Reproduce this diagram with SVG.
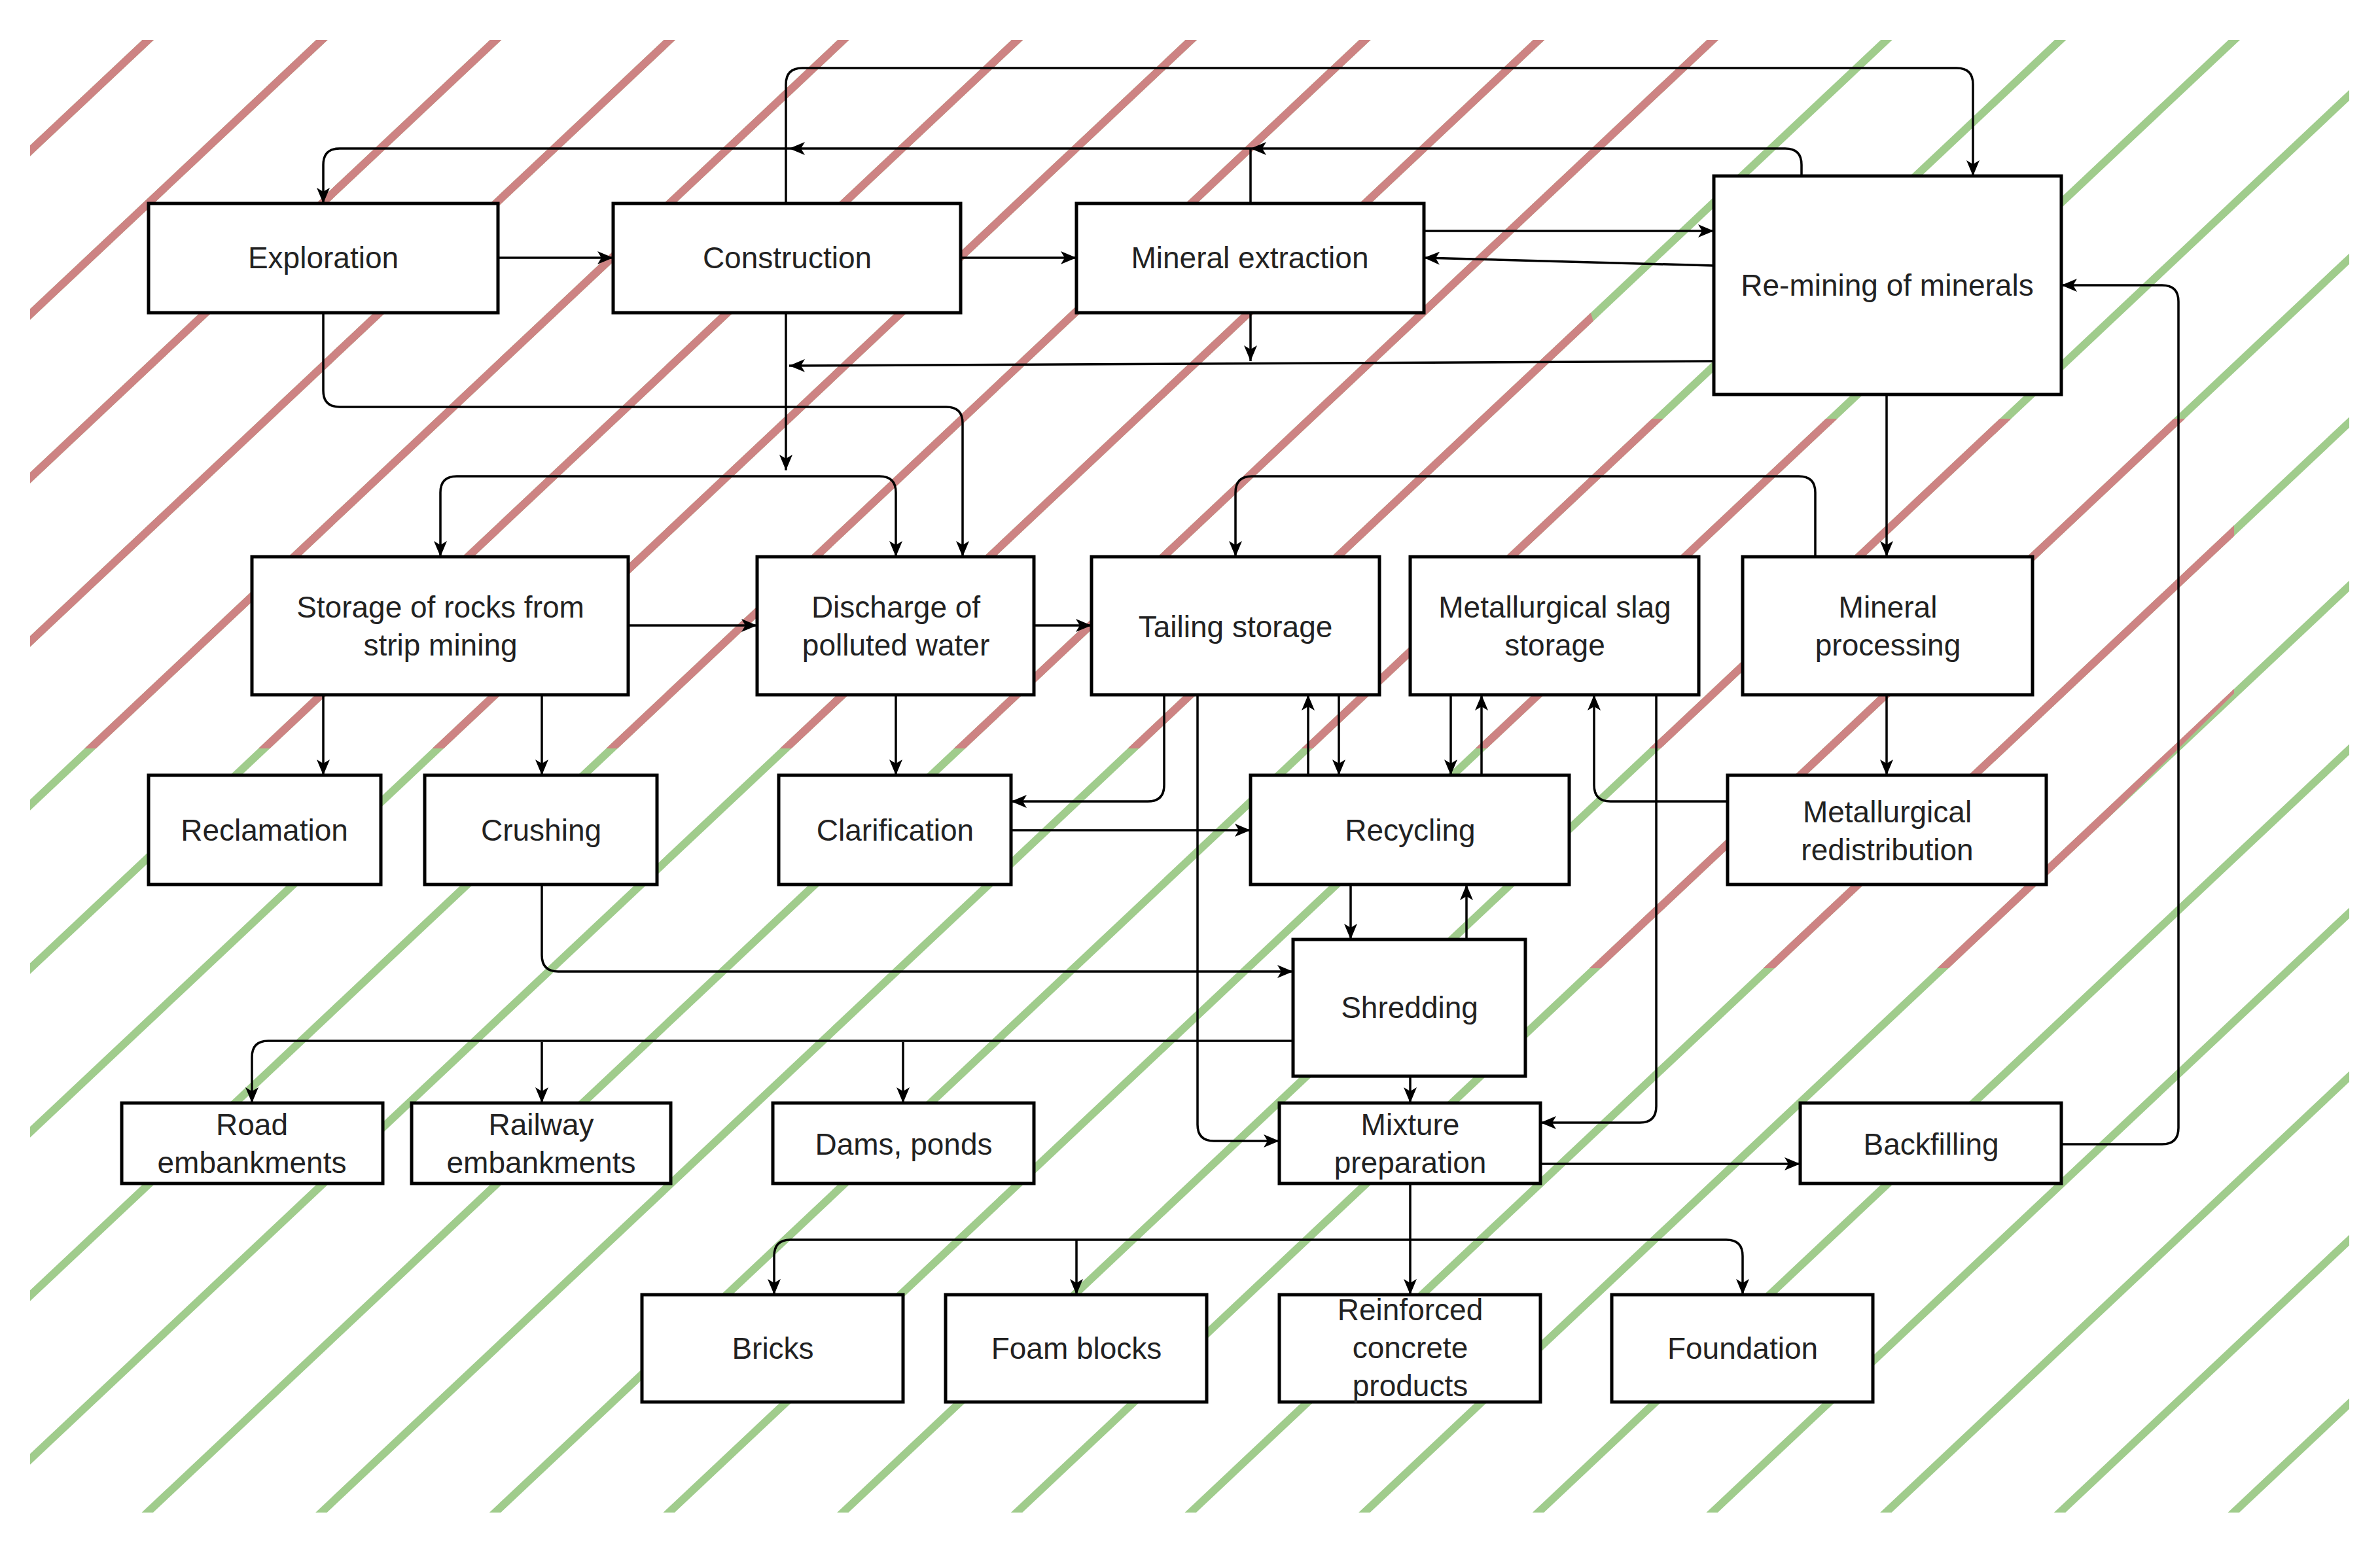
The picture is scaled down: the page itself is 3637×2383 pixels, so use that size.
<svg xmlns="http://www.w3.org/2000/svg" width="3637" height="2383" viewBox="0 0 3637 2383">
<style>
.n rect{fill:#fff;stroke:#000;stroke-width:5}
.n text{font-family:"Liberation Sans",Arial,sans-serif;font-size:46px;fill:#222;text-anchor:middle;dominant-baseline:central}
.c path{fill:none;stroke:#000;stroke-width:3.5}
.c .a{marker-end:url(#ar)}
.c .b{marker-start:url(#ar);marker-end:url(#ar)}
.ah{fill:#000}
</style>
<defs>
<marker id="ar" markerUnits="userSpaceOnUse" markerWidth="26" markerHeight="20" refX="24" refY="10" orient="auto-start-reverse"><path d="M0,0 L24,10 L0,20 L6,10 z" fill="#000"/></marker>
<clipPath id="box"><rect x="46" y="61" width="3544" height="2251"/></clipPath>
<clipPath id="red"><polygon points="-10,-10 2790,-10 2430,475 2480,640 3414,640 3414,1060 2990,1480 2300,1480 2657,1144 -10,1144"/></clipPath>
<path id="st" d="M-100,368L3800,-3302M-100,618L3800,-3052M-100,868L3800,-2802M-100,1118L3800,-2552M-100,1368L3800,-2302M-100,1618L3800,-2052M-100,1868L3800,-1802M-100,2118L3800,-1552M-100,2368L3800,-1302M-100,2618L3800,-1052M-100,2868L3800,-802M-100,3118L3800,-552M-100,3368L3800,-302M-100,3618L3800,-52M-100,3868L3800,198M-100,4118L3800,448M-100,4368L3800,698M-100,4618L3800,948M-100,4868L3800,1198M-100,5118L3800,1448M-100,5368L3800,1698M-100,5618L3800,1948" fill="none" stroke-width="12"/>
</defs>
<rect width="3637" height="2383" fill="#fff"/>
<g id="stripes" clip-path="url(#box)">
<use href="#st" stroke="#a0cc8c"/>
<g clip-path="url(#red)"><use href="#st" stroke="#cd8383"/></g>
</g>
<g id="connectors" class="c">
<path class="a" d="M761,394 H937"/>
<path class="a" d="M1468,394 H1645"/>
<path class="a" d="M2176,353 H2619"/>
<path class="a" d="M2619,406 L2176,394"/>
<path class="a" d="M1201,311 V129 Q1201,104 1226,104 H2990 Q3015,104 3015,129 V269"/>
<path class="a" d="M2753,269 V252 Q2753,227 2728,227 H519 Q494,227 494,252 V311"/>
<path d="M1911,311 V227"/>
<path class="a" d="M2619,552 L1206,559"/>
<path class="a" d="M1911,478 V552"/>
<path class="a" d="M1201,478 V719"/>
<path class="b" d="M673,851 V753 Q673,728 698,728 H1344 Q1369,728 1369,753 V851"/>
<path class="a" d="M494,478 V597 Q494,622 519,622 H1446 Q1471,622 1471,647 V851"/>
<path class="a" d="M960,956 H1157"/>
<path class="a" d="M1580,956 H1668"/>
<path class="a" d="M494,1062 V1185"/>
<path class="a" d="M828,1062 V1185"/>
<path class="a" d="M1369,1062 V1185"/>
<path class="a" d="M1779,1062 V1200 Q1779,1225 1754,1225 H1545"/>
<path class="a" d="M1545,1269 H1911"/>
<path class="a" d="M1999,1185 V1062"/>
<path class="a" d="M2046,1062 V1185"/>
<path class="a" d="M2217,1062 V1185"/>
<path class="a" d="M2264,1185 V1062"/>
<path class="a" d="M2640,1225 H2461 Q2436,1225 2436,1200 V1062"/>
<path class="a" d="M2774,851 V753 Q2774,728 2749,728 H1913 Q1888,728 1888,753 V851"/>
<path class="a" d="M2883,603 V851"/>
<path class="a" d="M2883,1062 V1185"/>
<path class="a" d="M2064,1352 V1436"/>
<path class="a" d="M2241,1436 V1352"/>
<path class="a" d="M828,1352 V1460 Q828,1485 853,1485 H1976"/>
<path class="a" d="M1830,1062 V1719 Q1830,1744 1855,1744 H1955"/>
<path class="a" d="M2531,1062 V1691 Q2531,1716 2506,1716 H2354"/>
<path class="a" d="M1976,1591 H410 Q385,1591 385,1616 V1686"/>
<path class="a" d="M828,1593 V1686"/>
<path class="a" d="M1380,1593 V1686"/>
<path class="a" d="M2155,1645 V1686"/>
<path class="a" d="M2354,1779 H2751"/>
<path class="a" d="M3150,1749 H3304 Q3329,1749 3329,1724 V461 Q3329,436 3304,436 H3150"/>
<path class="a" d="M2155,1809 V1979"/>
<path class="a" d="M2155,1895 H1208 Q1183,1895 1183,1920 V1979"/>
<path class="a" d="M2155,1895 H2638 Q2663,1895 2663,1920 V1979"/>
<path class="a" d="M1645,1895 V1979"/>
<polygon class="ah" points="1206,227 1230,217 1224,227 1230,237"/>
<polygon class="ah" points="1911,227 1935,217 1929,227 1935,237"/>
</g>
<g id="exploration" class="n"><rect x="227" y="311" width="534" height="167"/><text x="494" y="394">Exploration</text></g>
<g id="construction" class="n"><rect x="937" y="311" width="531" height="167"/><text x="1203" y="394">Construction</text></g>
<g id="mineral-extraction" class="n"><rect x="1645" y="311" width="531" height="167"/><text x="1910" y="394">Mineral extraction</text></g>
<g id="re-mining" class="n"><rect x="2619" y="269" width="531" height="334"/><text x="2884" y="436">Re-mining of minerals</text></g>
<g id="storage-rocks" class="n"><rect x="385" y="851" width="575" height="211"/><text x="673" y="928">Storage of rocks from</text><text x="673" y="986">strip mining</text></g>
<g id="discharge" class="n"><rect x="1157" y="851" width="423" height="211"/><text x="1369" y="928">Discharge of</text><text x="1369" y="986">polluted water</text></g>
<g id="tailing" class="n"><rect x="1668" y="851" width="440" height="211"/><text x="1888" y="958">Tailing storage</text></g>
<g id="slag" class="n"><rect x="2155" y="851" width="441" height="211"/><text x="2376" y="928">Metallurgical slag</text><text x="2376" y="986">storage</text></g>
<g id="mineral-processing" class="n"><rect x="2663" y="851" width="443" height="211"/><text x="2885" y="928">Mineral</text><text x="2885" y="986">processing</text></g>
<g id="reclamation" class="n"><rect x="227" y="1185" width="355" height="167"/><text x="404" y="1269">Reclamation</text></g>
<g id="crushing" class="n"><rect x="649" y="1185" width="355" height="167"/><text x="827" y="1269">Crushing</text></g>
<g id="clarification" class="n"><rect x="1190" y="1185" width="355" height="167"/><text x="1368" y="1269">Clarification</text></g>
<g id="recycling" class="n"><rect x="1911" y="1185" width="487" height="167"/><text x="2155" y="1269">Recycling</text></g>
<g id="redistribution" class="n"><rect x="2640" y="1185" width="487" height="167"/><text x="2884" y="1241">Metallurgical</text><text x="2884" y="1299">redistribution</text></g>
<g id="shredding" class="n"><rect x="1976" y="1436" width="355" height="209"/><text x="2154" y="1540">Shredding</text></g>
<g id="road" class="n"><rect x="186" y="1686" width="399" height="123"/><text x="385" y="1719">Road</text><text x="385" y="1777">embankments</text></g>
<g id="railway" class="n"><rect x="629" y="1686" width="396" height="123"/><text x="827" y="1719">Railway</text><text x="827" y="1777">embankments</text></g>
<g id="dams" class="n"><rect x="1181" y="1686" width="399" height="123"/><text x="1381" y="1749">Dams, ponds</text></g>
<g id="mixture" class="n"><rect x="1955" y="1686" width="399" height="123"/><text x="2155" y="1719">Mixture</text><text x="2155" y="1777">preparation</text></g>
<g id="backfilling" class="n"><rect x="2751" y="1686" width="399" height="123"/><text x="2951" y="1749">Backfilling</text></g>
<g id="bricks" class="n"><rect x="981" y="1979" width="399" height="164"/><text x="1181" y="2061">Bricks</text></g>
<g id="foam" class="n"><rect x="1445" y="1979" width="399" height="164"/><text x="1645" y="2061">Foam blocks</text></g>
<g id="reinforced" class="n"><rect x="1955" y="1979" width="399" height="164"/><text x="2155" y="2002">Reinforced</text><text x="2155" y="2060">concrete</text><text x="2155" y="2118">products</text></g>
<g id="foundation" class="n"><rect x="2463" y="1979" width="399" height="164"/><text x="2663" y="2061">Foundation</text></g>
</svg>
